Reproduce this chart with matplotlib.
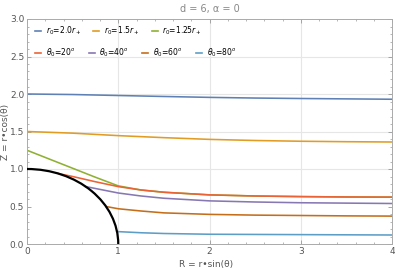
import matplotlib
matplotlib.use("Agg")
import matplotlib.pyplot as plt
from matplotlib.patches import Arc
from matplotlib.lines import Line2D
from matplotlib.ticker import MultipleLocator, FixedLocator

# ---- data ----
R_blue = [0, 0.5, 1, 1.5, 2, 2.5, 3, 3.5, 4]
Z_blue = [2.0, 1.993, 1.98, 1.967, 1.955, 1.946, 1.94, 1.935, 1.93]

R_orange = [0, 0.5, 1, 1.5, 2, 2.5, 3, 3.5, 4]
Z_orange = [1.5, 1.478, 1.445, 1.418, 1.395, 1.38, 1.37, 1.364, 1.36]

R_green = [0, 0.25, 0.5, 0.75, 1.0, 1.25, 1.5, 2, 2.5, 3, 3.5, 4]
Z_green = [1.25, 1.13, 1.01, 0.89, 0.775, 0.72, 0.69, 0.655, 0.64, 0.632, 0.627, 0.625]

R_th20 = [0.342, 0.5, 0.75, 1.0, 1.25, 1.5, 2, 2.5, 3, 3.5, 4]
Z_th20 = [0.94, 0.90, 0.83, 0.765, 0.72, 0.69, 0.655, 0.64, 0.632, 0.627, 0.625]

R_th40 = [0.643, 0.75, 1.0, 1.25, 1.5, 2, 2.5, 3, 3.5, 4]
Z_th40 = [0.766, 0.74, 0.68, 0.64, 0.61, 0.575, 0.56, 0.55, 0.545, 0.54]

R_th60 = [0.866, 1.0, 1.25, 1.5, 2, 2.5, 3, 3.5, 4]
Z_th60 = [0.50, 0.47, 0.44, 0.415, 0.395, 0.385, 0.38, 0.375, 0.372]

R_th80 = [0.985, 1.0, 1.25, 1.5, 2, 3, 4]
Z_th80 = [0.174, 0.165, 0.15, 0.14, 0.13, 0.125, 0.12]

labels_r = [r'$r_0$=2.0$r_+$', r'$r_0$=1.5$r_+$', r'$r_0$=1.25$r_+$']
labels_th = [r'$\theta_0$=20$^o$', r'$\theta_0$=40$^o$', r'$\theta_0$=60$^o$', r'$\theta_0$=80$^o$']

x_ticks = [0, 1, 2, 3, 4]
y_ticks = [0.0, 0.5, 1.0, 1.5, 2.0, 2.5, 3.0]
y_ticklabels = ["0.0", "0.5", "1.0", "1.5", "2.0", "2.5", "3.0"]

c_r = ['#5E81B5', '#E19C24', '#8FB032']
c_th = ['#EB6235', '#8778B3', '#C56E1A', '#5D9EC7']

# ---- figure ----
fig = plt.figure(figsize=(3.95, 2.70), dpi=100)
ax = fig.add_axes([27/395, 1-244/270, (392-27)/395, (244-19)/270])

gray = '#999999'
lw = 1.15
for yg in [1.0, 1.5, 2.0, 2.5]:
    ax.axhline(yg, color='#e6e6e6', lw=0.8, zorder=0)
for xg in [1, 2, 3]:
    ax.axvline(xg, color='#e6e6e6', lw=0.8, zorder=0)

ax.plot(R_blue, Z_blue, color=c_r[0], lw=lw)
ax.plot(R_orange, Z_orange, color=c_r[1], lw=lw)
ax.plot(R_green, Z_green, color=c_r[2], lw=lw)
ax.plot(R_th20, Z_th20, color=c_th[0], lw=lw)
ax.plot(R_th40, Z_th40, color=c_th[1], lw=lw)
ax.plot(R_th60, Z_th60, color=c_th[2], lw=lw)
ax.plot(R_th80, Z_th80, color=c_th[3], lw=lw)

ax.add_patch(Arc((0, 0), 2, 2, theta1=0, theta2=90, color='black', lw=1.6, zorder=5))

ax.set_xlim(0, 4)
ax.set_ylim(0, 3)
ax.xaxis.set_major_locator(FixedLocator(x_ticks))
ax.yaxis.set_major_locator(FixedLocator(y_ticks))
ax.set_yticklabels(y_ticklabels)
ax.xaxis.set_minor_locator(MultipleLocator(0.2))
ax.yaxis.set_minor_locator(MultipleLocator(0.1))
ax.tick_params(which='both', direction='in', colors=gray, labelsize=6.5,
               top=True, right=True, labelcolor='#555555')
ax.tick_params(which='major', length=3, width=0.6, pad=2)
ax.tick_params(which='minor', length=1.5, width=0.5)
for s in ax.spines.values():
    s.set_color('#aaaaaa')
    s.set_linewidth(0.7)

ax.set_xlabel('R = r•sin(θ)', fontsize=6.5, color='#555555')
ax.xaxis.set_label_coords(0.49, -0.07)
ax.set_ylabel('Z = r•cos(θ)', fontsize=6.5, color='#555555')
ax.yaxis.set_label_coords(-0.046, 0.5)
ax.set_title('d = 6, α = 0', fontsize=7, color='#888888', pad=5)

h_r = [Line2D([], [], color=c, lw=1.2) for c in c_r]
h_th = [Line2D([], [], color=c, lw=1.2) for c in c_th]
leg1 = ax.legend(h_r, labels_r, ncol=3, loc='center left', bbox_to_anchor=(0.022, 1-(31-19)/225),
                 frameon=False, fontsize=5.5, handlelength=0.8, handletextpad=0.6,
                 columnspacing=1.6, borderpad=0, borderaxespad=0)
ax.add_artist(leg1)
ax.legend(h_th, labels_th, ncol=4, loc='center left', bbox_to_anchor=(0.022, 1-(53-19)/225),
          frameon=False, fontsize=5.5, handlelength=0.8, handletextpad=0.6,
          columnspacing=1.75, borderpad=0, borderaxespad=0)

fig.savefig('out.png', dpi=100)
